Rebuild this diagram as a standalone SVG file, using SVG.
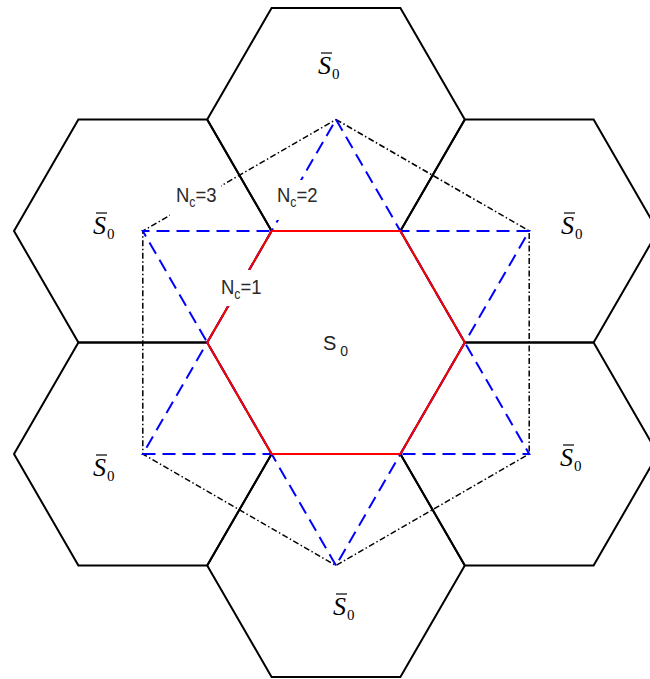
<svg xmlns="http://www.w3.org/2000/svg" width="650" height="679" viewBox="0 0 650 679">
<style>
.hex{fill:none;stroke:#000;stroke-width:2;stroke-linejoin:miter}
.red{fill:none;stroke:#f00;stroke-width:2}
.dd{fill:none;stroke:#000;stroke-width:1.5;stroke-dasharray:6 2.5 1.5 2.5}
.bl{fill:none;stroke:#00f;stroke-width:2;stroke-dasharray:13 7}
.sb{font-family:"Liberation Serif",serif;font-style:italic;font-size:26px;fill:#000}
.sub0{font-family:"Liberation Serif",serif;font-style:normal;font-size:15px}
.bar{stroke:#000;stroke-width:1.2}
.nc{font-family:"Liberation Sans",Arial,sans-serif;font-size:21px;fill:#2a2a2a}
.ncs{font-size:14px}
.bg{fill:#fff}
</style>
<rect width="650" height="679" fill="#fff"/>
<g id="cells">
<polygon id="cell-top" class="hex" points="207.2,119.5 271.6,8 400.4,8 464.8,119.5 400.4,231 271.6,231"/>
<polygon id="cell-ul" class="hex" points="14,231 78.4,119.5 207.2,119.5 271.6,231 207.2,342.5 78.4,342.5"/>
<polygon id="cell-ur" class="hex" points="400.4,231 464.8,119.5 593.6,119.5 658,231 593.6,342.5 464.8,342.5"/>
<polygon id="cell-ll" class="hex" points="14,454 78.4,342.5 207.2,342.5 271.6,454 207.2,565.5 78.4,565.5"/>
<polygon id="cell-lr" class="hex" points="400.4,454 464.8,342.5 593.6,342.5 658,454 593.6,565.5 464.8,565.5"/>
<polygon id="cell-bottom" class="hex" points="207.2,565.5 271.6,454 400.4,454 464.8,565.5 400.4,677 271.6,677"/>
</g>
<g id="connectors">
<polygon id="nc3" class="dd" points="336,119.5 529.2,231 529.2,454 336,565.5 142.8,454 142.8,231"/>
<polygon id="nc2a" class="bl" points="336,119.5 529.2,454 142.8,454"/>
<polygon id="nc2b" class="bl" points="336,565.5 142.8,231 529.2,231"/>
</g>
<g id="cell-center">
<polygon class="red" points="207.2,342.5 271.6,231 400.4,231 464.8,342.5 400.4,454 271.6,454"/>
<text x="323" y="350" font-family="Liberation Sans,Arial,sans-serif" font-size="20" fill="#222">S<tspan dx="4" dy="6" font-size="14">0</tspan></text>
</g>
<g id="labels-nc">
<rect class="bg" x="170" y="184" width="51" height="32"/>
<text class="nc" transform="translate(176,202) scale(0.88,1)">N<tspan class="ncs" dy="5">c</tspan><tspan dy="-5">=3</tspan></text>
<rect class="bg" x="275" y="180" width="48" height="40"/>
<text class="nc" transform="translate(277,202) scale(0.88,1)">N<tspan class="ncs" dy="5">c</tspan><tspan dy="-5">=2</tspan></text>
<rect class="bg" x="219" y="270" width="42" height="36"/>
<text class="nc" transform="translate(221,294) scale(0.88,1)">N<tspan class="ncs" dy="5">c</tspan><tspan dy="-5">=1</tspan></text>
</g>
<g id="labels-s0bar">
<g id="lbl-top"><line class="bar" x1="321" y1="53" x2="332" y2="53"/><text class="sb" x="318" y="74">S<tspan class="sub0" dx="1" dy="5">0</tspan></text></g>
<g id="lbl-ul"><line class="bar" x1="96" y1="213" x2="107" y2="213"/><text class="sb" x="93" y="234">S<tspan class="sub0" dx="1" dy="5">0</tspan></text></g>
<g id="lbl-ur"><line class="bar" x1="564" y1="213" x2="575" y2="213"/><text class="sb" x="561" y="234">S<tspan class="sub0" dx="1" dy="5">0</tspan></text></g>
<g id="lbl-ll"><line class="bar" x1="96" y1="455" x2="107" y2="455"/><text class="sb" x="93" y="476">S<tspan class="sub0" dx="1" dy="5">0</tspan></text></g>
<g id="lbl-lr"><line class="bar" x1="563" y1="445" x2="574" y2="445"/><text class="sb" x="560" y="466">S<tspan class="sub0" dx="1" dy="5">0</tspan></text></g>
<g id="lbl-bottom"><line class="bar" x1="336" y1="594" x2="347" y2="594"/><text class="sb" x="333" y="615">S<tspan class="sub0" dx="1" dy="5">0</tspan></text></g>
</g>
</svg>
